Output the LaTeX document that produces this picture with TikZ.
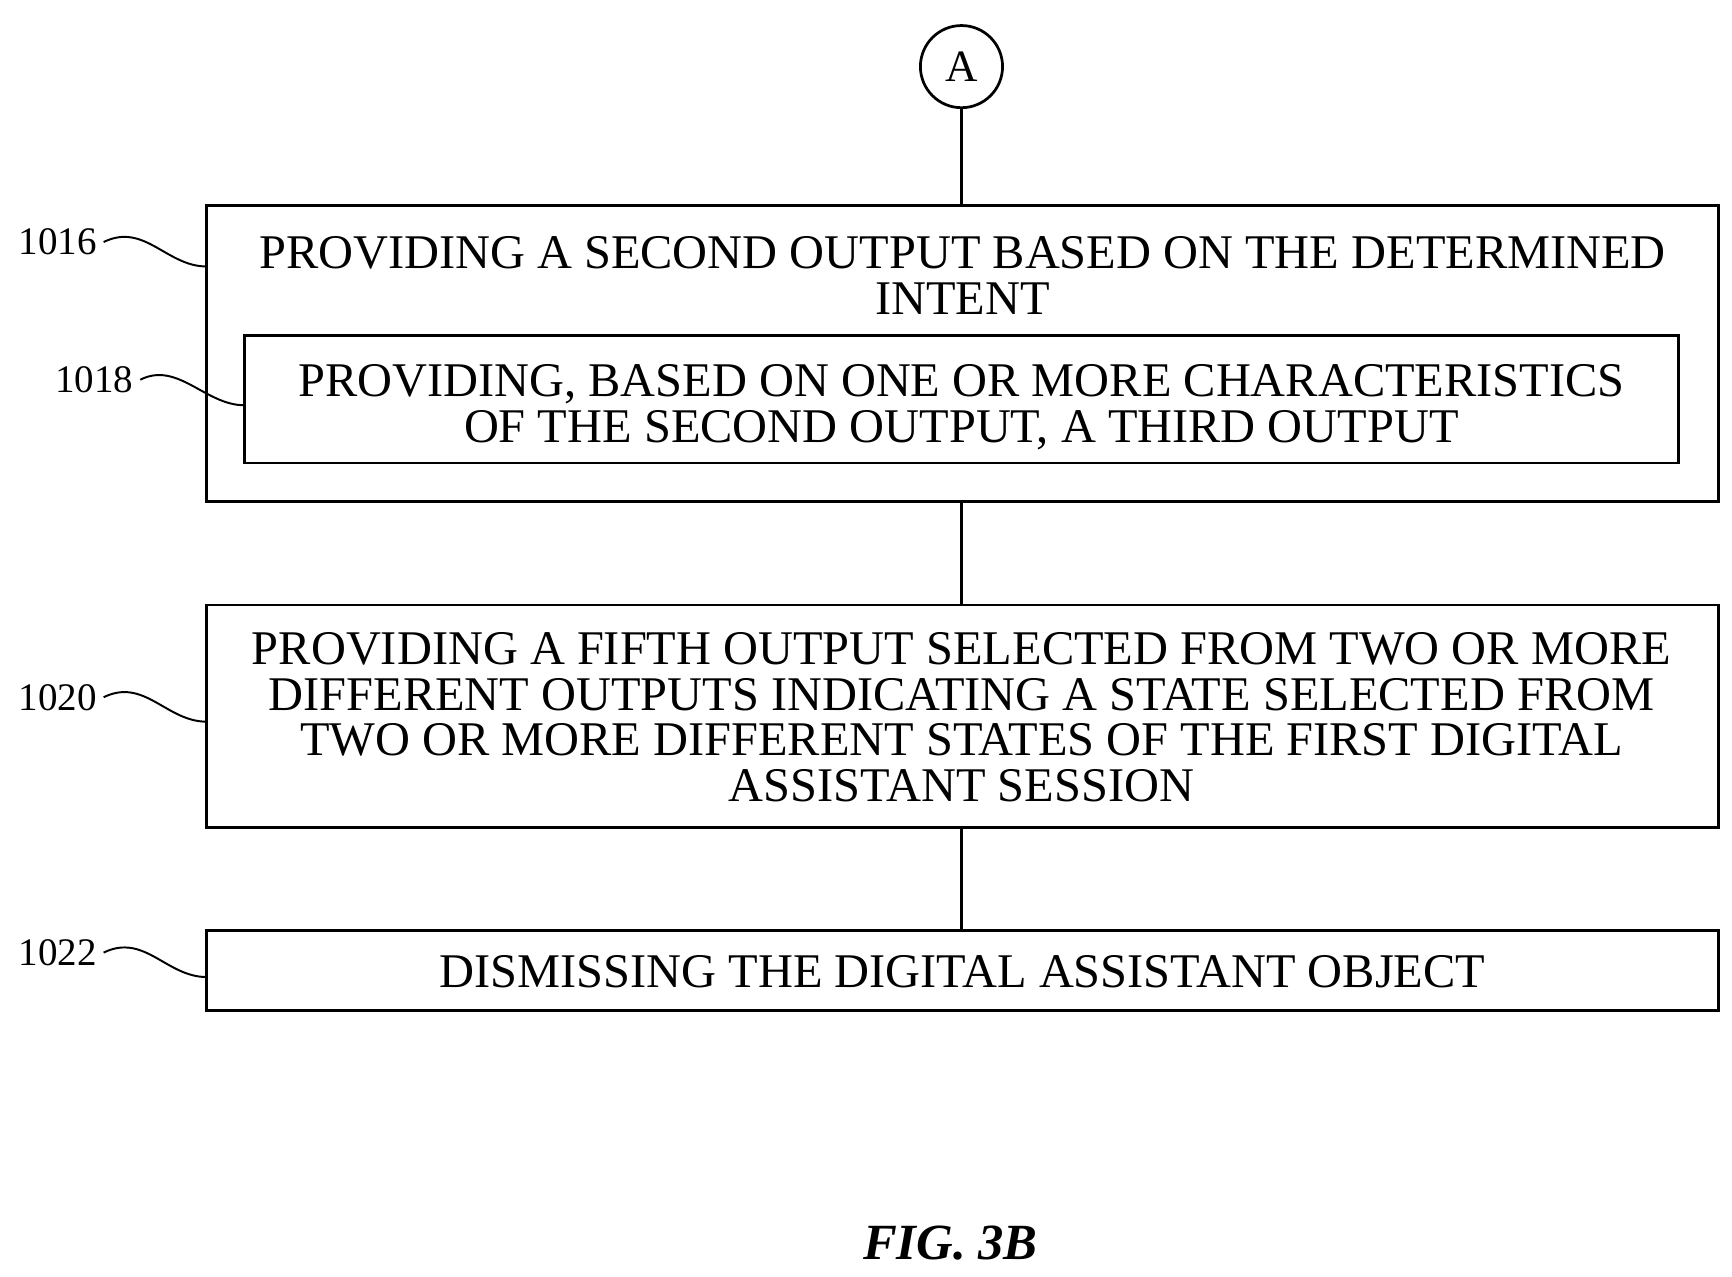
\documentclass[tikz,border=0pt]{standalone}
\usepackage{fontspec}
\setmainfont{Liberation Serif}
\begin{document}
\begin{tikzpicture}[x=0.02cm,y=-0.02cm,
  box/.style={draw,line width=1.4pt,inner sep=0pt},
  txt/.style={font=\fontsize{24.8}{23.5}\selectfont,align=center},
  lbl/.style={font=\fontsize{20}{24}\selectfont},
  lead/.style={line width=1pt}]
\useasboundingbox (0,0) rectangle (1560,1150);
\node[draw,circle,line width=1.4pt,minimum size=74*0.02cm,inner sep=0pt,font=\fontsize{23}{28}\selectfont] (A) at (866,60) {A};
\draw[box] (186,185) rectangle (1548,452);
\coordinate (b1top) at (866,185); \coordinate (b1bot) at (866,452);
\node[txt] (t1) at (867,248) {PROVIDING A SECOND OUTPUT BASED ON THE DETERMINED\\INTENT};
\draw[box] (220,302) rectangle (1512,417);
\node[txt] (t2) at (866,367) {PROVIDING, BASED ON ONE OR MORE CHARACTERISTICS\\OF THE SECOND OUTPUT, A THIRD OUTPUT};
\draw[box] (186,545) rectangle (1548,745);
\coordinate (b3top) at (866,545); \coordinate (b3bot) at (866,745);
\node[txt] (t3) at (866,646) {PROVIDING A FIFTH OUTPUT SELECTED FROM TWO OR MORE\\DIFFERENT OUTPUTS INDICATING A STATE SELECTED FROM\\TWO OR MORE DIFFERENT STATES OF THE FIRST DIGITAL\\ASSISTANT SESSION};
\draw[box] (186,838) rectangle (1548,910);
\coordinate (b4top) at (866,838);
\node[txt] (t4) at (867,875) {DISMISSING THE DIGITAL ASSISTANT OBJECT};
\draw[line width=1.4pt] (A.south) -- (b1top);
\draw[line width=1.4pt] (b1bot) -- (b3top);
\draw[line width=1.4pt] (b3bot) -- (b4top);
\node[lbl] (l1) at (52,218) {1016};
\node[lbl] (l2) at (85,342) {1018};
\node[lbl] (l3) at (52,628) {1020};
\node[lbl] (l4) at (52,858) {1022};
\draw[lead] (l1.east) .. controls (130,200) and (150,240) .. (186,240);
\draw[lead] (l2.east) .. controls (160,325) and (185,365) .. (220,365);
\draw[lead] (l3.east) .. controls (130,610) and (150,650) .. (186,650);
\draw[lead] (l4.east) .. controls (130,840) and (150,880) .. (186,880);
\node[font=\fontsize{26}{30}\selectfont\bfseries\itshape] (fig) at (856,1120) {FIG. 3B};
\end{tikzpicture}
\end{document}
